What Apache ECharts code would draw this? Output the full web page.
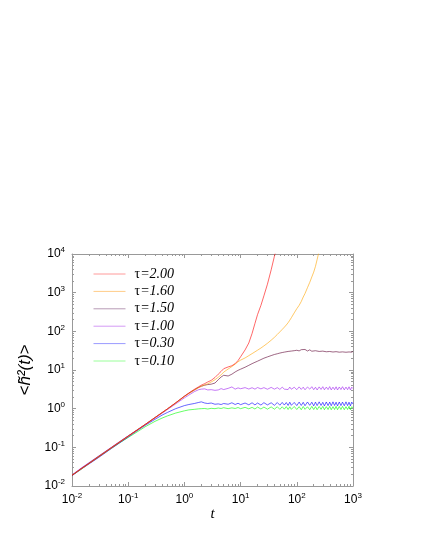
<!DOCTYPE html>
<html>
<head>
<meta charset="utf-8">
<script src="https://cdn.jsdelivr.net/npm/echarts@6/dist/echarts.min.js"></script>
<style>
    html, body { margin: 0; padding: 0; background: #fff; }
    #chart { width: 425px; height: 550px; }
</style>
</head>
<body>
<div id="chart"></div>
<script>
// time grid (t), shared by all curves
var times = [0.01, 0.015, 0.02, 0.03, 0.05, 0.07, 0.1, 0.15, 0.2, 0.3, 0.4, 0.5, 0.7, 1,
    1.2, 1.5, 1.8, 2, 2.3, 2.6, 3, 3.5, 4, 4.5, 5, 6, 7, 8, 9, 10,
    12, 14, 16, 18, 20, 23, 26, 30, 35, 40, 45, 50, 55, 60, 65, 70, 75, 80, 90, 100,
    110, 120, 130, 140, 155, 170, 185, 200, 215, 230, 250, 270, 290, 310, 335, 360, 385, 410, 440, 470,
    500, 530, 570, 610, 650, 700, 750, 800, 850, 900, 950, 1000];

// <h^2(t)> for each tau
var tau200 = [0.0188, 0.029, 0.038, 0.057, 0.097, 0.135, 0.195, 0.29, 0.39, 0.59, 0.79, 0.99, 1.42, 2.1,
    2.55, 3.15, 3.7, 4.05, 4.45, 4.9, 5.4, 6.4, 7.8, 9.2, 10.8, 12.0, 12.9, 14.6, 17.5, 22,
    33, 50, 88, 160, 270, 470, 830, 1650, 3900, 8800, 16000];
var tau160 = [0.019, 0.028, 0.038, 0.058, 0.096, 0.136, 0.192, 0.29, 0.385, 0.58, 0.78, 0.98, 1.4, 2.05,
    2.45, 3.0, 3.5, 3.8, 4.1, 4.4, 4.9, 5.6, 6.5, 7.5, 8.8, 10.6, 12.3, 14.2, 16.3, 18,
    20.5, 23.5, 26.5, 29.5, 32.5, 37, 42, 49, 59, 70, 83, 97, 112, 128, 146, 167, 194, 225, 300, 385,
    470, 590, 770, 950, 1350, 1850, 2550, 3400, 4800, 7200, 12000];
var tau150 = [0.019, 0.029, 0.039, 0.059, 0.098, 0.138, 0.196, 0.295, 0.39, 0.59, 0.79, 0.99, 1.41, 2.1,
    2.5, 3.05, 3.55, 3.8, 4.05, 4.2, 4.3, 4.6, 5.6, 6.6, 7.3, 7.0, 7.8, 8.9, 9.8, 10.5,
    11.8, 13.2, 14.6, 15.8, 16.9, 18.6, 20.2, 21.8, 23.6, 25.2, 26.3, 27.4, 28.3, 29.0, 29.8, 30.2, 30.8, 30.9, 31.6, 32.4,
    31.2, 33.5, 31.8, 34.0, 31.0, 33.2, 30.6, 34.2, 31.5, 32.8, 30.2, 33.6, 30.8, 32.2, 29.6, 32.9, 30.1, 31.8, 29.2, 32.4,
    29.8, 31.5, 28.9, 31.9, 29.4, 31.2, 28.8, 31.6, 29.3, 30.9, 28.9, 30.4];
var tau100 = [0.0195, 0.03, 0.04, 0.06, 0.1, 0.14, 0.198, 0.29, 0.38, 0.57, 0.76, 0.95, 1.33, 1.9,
    2.25, 2.75, 3.1, 3.2, 3.25, 3.05, 3.1, 2.98, 3.05, 3.3, 3.12, 3.35, 3.65, 3.2, 3.45, 3.28,
    3.5, 3.22, 3.48, 3.2, 3.52, 3.25, 3.5, 3.18, 3.55, 3.2, 3.5, 3.15, 3.6, 3.2, 3.55, 3.12, 3.62, 3.18, 3.58, 3.1,
    3.66, 3.15, 3.6, 3.08, 3.64, 3.2, 3.7, 3.1, 3.58, 3.05, 3.66, 3.14, 3.7, 3.08, 3.62, 3.12, 3.72, 3.06, 3.6, 3.1,
    3.68, 3.04, 3.64, 3.12, 3.7, 3.06, 3.62, 3.1, 3.68, 3.05, 3.6, 3.3];
var tau030 = [0.0185, 0.028, 0.037, 0.055, 0.093, 0.13, 0.185, 0.28, 0.37, 0.53, 0.68, 0.8, 1.0, 1.2,
    1.28, 1.36, 1.45, 1.5, 1.4, 1.36, 1.4, 1.3, 1.33, 1.28, 1.36, 1.3, 1.42, 1.28, 1.38, 1.27,
    1.4, 1.26, 1.42, 1.25, 1.4, 1.24, 1.43, 1.25, 1.42, 1.22, 1.44, 1.23, 1.45, 1.24, 1.44, 1.21, 1.47, 1.22, 1.45, 1.2,
    1.48, 1.21, 1.46, 1.19, 1.49, 1.22, 1.47, 1.18, 1.48, 1.2, 1.5, 1.21, 1.46, 1.18, 1.49, 1.2, 1.48, 1.19, 1.5, 1.21,
    1.47, 1.18, 1.49, 1.2, 1.48, 1.19, 1.5, 1.2, 1.47, 1.18, 1.48, 1.32];
var tau010 = [0.019, 0.028, 0.038, 0.057, 0.094, 0.13, 0.18, 0.26, 0.34, 0.47, 0.57, 0.65, 0.77, 0.88,
    0.93, 0.96, 0.99, 1.0, 1.01, 0.98, 1.02, 1.0, 1.04, 1.01, 1.06, 1.0, 1.05, 1.01, 1.07, 1.0,
    1.08, 0.99, 1.08, 0.98, 1.1, 0.98, 1.1, 0.97, 1.11, 0.97, 1.12, 0.96, 1.12, 0.97, 1.13, 0.95, 1.12, 0.96, 1.14, 0.95,
    1.13, 0.94, 1.14, 0.96, 1.12, 0.94, 1.15, 0.95, 1.13, 0.94, 1.14, 0.96, 1.15, 0.94, 1.13, 0.95, 1.15, 0.94, 1.13, 0.95,
    1.15, 0.94, 1.14, 0.95, 1.15, 0.94, 1.13, 0.95, 1.15, 0.94, 1.13, 1.05];

var names = ['τ=2.00', 'τ=1.60', 'τ=1.50', 'τ=1.00', 'τ=0.30', 'τ=0.10'];
var values = [tau200, tau160, tau150, tau100, tau030, tau010];
var colors = ['#ff0000', '#ffa500', '#5c0030', '#a020f0', '#0000ff', '#00ff00'];
// legend strokes look washed out in the picture
var legendColors = ['#ff9a9a', '#ffcc88', '#b79ab5', '#d49af5', '#9a9aff', '#9aff9a'];

// decade exponents of the axes, minor ticks at 2..9 inside each decade
var xDecades = [-2, -1, 0, 1, 2];
var yDecades = [-2, -1, 0, 1, 2, 3];
function minorTicks(decades) {
    var out = [];
    decades.forEach(function (d) {
        for (var k = 2; k <= 9; k++) out.push(d + Math.log10(k));
    });
    return out;
}

var frame = '#999';
var labelRich = {
    b: { fontSize: 12, fontFamily: 'Liberation Sans', color: '#000' },
    s: { fontSize: 8, fontFamily: 'Liberation Sans', color: '#000', padding: [0, 0, 8, 0] }
};
function powLabel(v) {
    return '{b|10}{s|' + Math.round(Math.log10(v)) + '}';
}

function logAxis(pos, main, lo, hi) {
    return {
        type: 'log', logBase: 10, min: lo, max: hi, position: pos, gridIndex: 0,
        axisLine: { show: true, onZero: false, lineStyle: { color: frame, width: 1 } },
        axisTick: { show: true, inside: true, length: 4, lineStyle: { color: frame } },
        axisLabel: { show: main, formatter: powLabel, rich: labelRich, margin: pos === 'left' ? 7 : 6 },
        splitLine: { show: false }
    };
}
function minorAxis(pos, lo, hi, ticks) {
    return {
        type: 'value', min: lo, max: hi, position: pos, gridIndex: 1,
        axisLine: { show: false, onZero: false },
        axisTick: { show: true, inside: true, length: 2, customValues: ticks, lineStyle: { color: frame } },
        axisLabel: { show: false },
        splitLine: { show: false }
    };
}

var xMain = logAxis('bottom', true, 0.01, 1000);
xMain.name = 't';
xMain.nameLocation = 'middle';
xMain.nameGap = 20;
xMain.nameTextStyle = { fontFamily: 'Liberation Serif', fontStyle: 'italic', fontSize: 15, color: '#000' };

var yMain = logAxis('left', true, 0.01, 10000);
yMain.name = '<h̃²(t)>';
yMain.nameLocation = 'middle';
yMain.nameRotate = 90;
yMain.nameGap = 25;
yMain.nameTextStyle = { fontFamily: 'Liberation Sans', fontStyle: 'italic', fontSize: 17, color: '#000' };

var series = names.map(function (n, i) {
    return {
        name: n, type: 'line', xAxisIndex: 0, yAxisIndex: 0,
        showSymbol: false, symbol: 'none', smooth: false, clip: true,
        z: 10 - i,
        lineStyle: { color: colors[i], width: 0.6 },
        itemStyle: { color: colors[i] },
        data: values[i].map(function (v, j) { return [times[j], v]; })
    };
});

var chart = echarts.init(document.getElementById('chart'));
chart.setOption({
    animation: false,
    backgroundColor: '#fff',
    grid: [
        { left: 72, right: 72, top: 254, bottom: 64 },
        { left: 72, right: 72, top: 254, bottom: 64 }
    ],
    xAxis: [
        xMain,
        logAxis('top', false, 0.01, 1000),
        minorAxis('bottom', -2, 3, minorTicks(xDecades)),
        minorAxis('top', -2, 3, minorTicks(xDecades))
    ],
    yAxis: [
        yMain,
        logAxis('right', false, 0.01, 10000),
        minorAxis('left', -2, 4, minorTicks(yDecades)),
        minorAxis('right', -2, 4, minorTicks(yDecades))
    ],
    legend: {
        data: names.map(function (n, i) {
            return {
                name: n,
                itemStyle: { color: legendColors[i], opacity: 0 },
                lineStyle: { color: legendColors[i], width: 1 }
            };
        }),
        orient: 'vertical',
        left: 88, top: 262,
        itemWidth: 32, itemHeight: 14, itemGap: 3.4,
        formatter: function (n) { return '{u|τ}{i|' + n.slice(1) + '}'; },
        textStyle: {
            padding: [0, 0, 0, 4],
            rich: {
                u: { fontFamily: 'Liberation Serif', fontSize: 14, color: '#000' },
                i: { fontFamily: 'Liberation Serif', fontStyle: 'italic', fontSize: 14, color: '#000' }
            }
        }
    },
    series: series
});
</script>
</body>
</html>
